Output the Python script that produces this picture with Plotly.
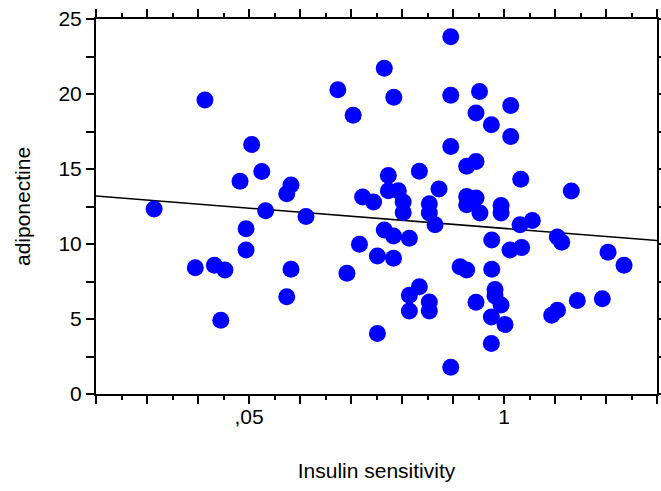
import numpy as np
import plotly.graph_objects as go

# Insulin sensitivity (log scale) and adiponectine per subject
insulin_sensitivity = [
    0.0164, 0.0266, 0.0298, 0.0333, 0.0359, 0.0377, 0.0450, 0.0483, 0.0483, 0.0516,
    0.0581, 0.0608, 0.0779, 0.0819, 0.0819, 0.0779, 0.0977, 0.142, 0.158, 0.170,
    0.183, 0.190, 0.216, 0.226, 0.226, 0.245, 0.245, 0.257, 0.257, 0.274,
    0.273, 0.273, 0.289, 0.306, 0.306, 0.329, 0.329, 0.329, 0.370, 0.370,
    0.416, 0.416, 0.416, 0.416, 0.445, 0.466, 0.535, 0.535, 0.535, 0.535,
    0.597, 0.645, 0.645, 0.645, 0.645, 0.720, 0.720, 0.720, 0.720, 0.754,
    0.750, 0.866, 0.862, 0.866, 0.862, 0.900, 0.900, 0.862, 0.966, 0.966,
    0.966, 1.012, 1.073, 1.082, 1.082, 1.217, 1.207, 1.231, 1.395, 1.751,
    1.871, 1.875, 1.970, 2.205, 2.366, 3.174, 3.395, 4.097,
]
adiponectine = [
    12.33, 8.42, 19.60, 8.58, 4.92, 8.27, 14.18, 11.01, 9.60, 16.63,
    14.83, 12.22, 13.35, 13.94, 8.31, 6.48, 11.83, 20.29, 8.05, 18.59,
    9.99, 13.13, 12.80, 9.20, 4.03, 21.72, 10.94, 14.56, 13.55, 19.78,
    10.54, 9.05, 13.55, 12.80, 12.10, 6.59, 5.54, 10.39, 7.15, 14.85,
    12.68, 12.06, 6.14, 5.54, 11.28, 13.67, 23.82, 19.91, 16.50, 1.79,
    8.49, 8.27, 15.18, 13.17, 12.62, 15.50, 18.73, 6.12, 13.07, 12.06,
    20.16, 10.27, 17.95, 8.31, 3.36, 6.97, 6.53, 5.14, 5.94, 12.57,
    12.06, 4.63, 9.60, 19.24, 17.17, 14.31, 11.28, 9.76, 11.57, 5.25,
    10.46, 5.59, 10.12, 13.53, 6.24, 6.35, 9.45, 8.58,
]

# Linear fit of adiponectine on log10(insulin sensitivity)
fit_intercept = 11.04
fit_slope = -1.034

# Labelled x ticks
x_label_values = [0.05, 1]
x_label_text = [",05", "1"]

# y axis
y_range = [0, 25]
y_label_step = 5
y_tick_step = 2.5

# x axis layout: evenly spaced ticks in log space, 5 steps between the labels
lab_logs = np.log10(x_label_values)
step = (lab_logs[1] - lab_logs[0]) / 5
n_before, n_after = 3, 3
log_lo = lab_logs[0] - n_before * step
log_hi = lab_logs[1] + n_after * step
major_logs = log_lo + step * np.arange(int(round((log_hi - log_lo) / step)) + 1)
major_vals = 10 ** major_logs
major_text = []
for lg in major_logs:
    txt = ""
    for lv, t in zip(lab_logs, x_label_text):
        if abs(lg - lv) < 1e-6:
            txt = t
    major_text.append(txt)
minor_vals = 10 ** (major_logs[:-1] + step / 2)

y_ticks = np.arange(y_range[0], y_range[1] + 1e-9, y_tick_step)
y_text = [str(int(v)) if abs(v % y_label_step) < 1e-9 else "" for v in y_ticks]

fit_logs = np.array([log_lo, log_hi])
fit_x = 10 ** fit_logs
fit_y = fit_intercept + fit_slope * fit_logs

font = dict(family="Liberation Sans, Arial, sans-serif", size=21, color="black")

fig = go.Figure()
fig.add_trace(go.Scatter(
    x=fit_x, y=fit_y, mode="lines",
    line=dict(color="black", width=1.5),
    hoverinfo="skip", showlegend=False,
))
fig.add_trace(go.Scatter(
    x=insulin_sensitivity, y=adiponectine, mode="markers",
    marker=dict(color="#0000FF", size=17, line=dict(width=0)),
    showlegend=False,
))

fig.update_xaxes(
    type="log", range=[log_lo, log_hi], automargin=False,
    tickmode="array", tickvals=major_vals, ticktext=major_text,
    ticks="outside", ticklen=8, tickwidth=2, tickcolor="black",
    showline=True, linewidth=2, linecolor="black", mirror="ticks",
    showgrid=False, zeroline=False,
    minor=dict(tickmode="array", tickvals=minor_vals, ticks="outside",
               ticklen=4, tickwidth=2, tickcolor="black", showgrid=False),
    tickfont=font, ticklabelstandoff=-5,
    title=dict(text="Insulin sensitivity", font=font, standoff=36),
)
fig.update_yaxes(
    range=y_range, automargin=False,
    tickmode="array", tickvals=y_ticks, ticktext=y_text,
    ticks="outside", ticklen=8, tickwidth=2, tickcolor="black",
    showline=True, linewidth=2, linecolor="black", mirror="ticks",
    showgrid=False, zeroline=False,
    tickfont=font,
    title=dict(text="adiponectine", font=font, standoff=22),
)
fig.update_layout(
    width=661, height=491,
    margin=dict(l=96, r=4, t=19, b=97),
    paper_bgcolor="white", plot_bgcolor="white",
    font=font,
)

fig.write_html("out.html")
